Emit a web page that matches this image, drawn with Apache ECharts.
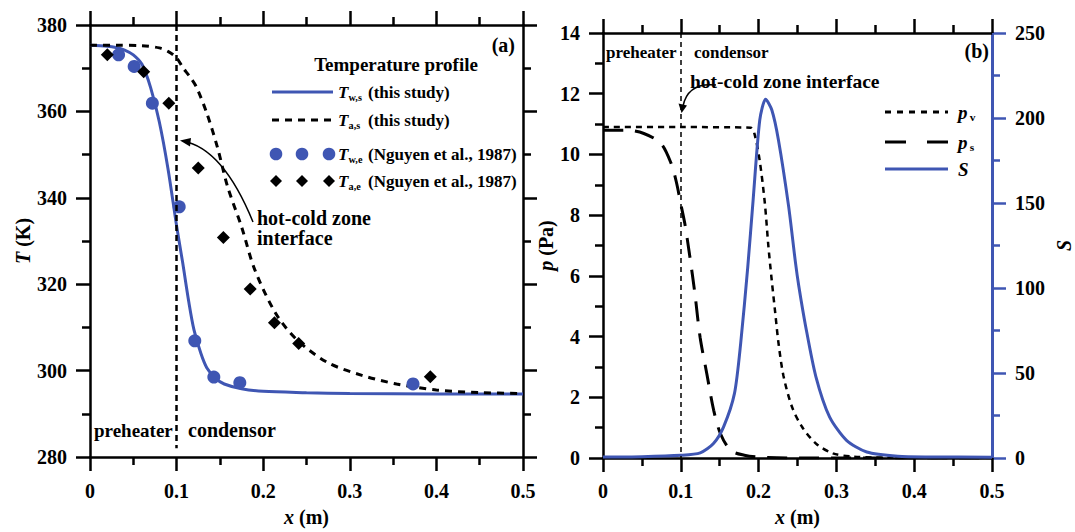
<!DOCTYPE html>
<html>
<head>
<meta charset="utf-8">
<script src="https://cdn.jsdelivr.net/npm/echarts@6/dist/echarts.min.js"></script>
<style>
  html, body { margin: 0; padding: 0; background: #fff; }
  #chart { width: 1075px; height: 532px; }
</style>
</head>
<body>
<div id="chart"></div>
<script>
// ---- panel (a): temperature profile ----
const xTws = [0, 0.02, 0.03, 0.04, 0.05, 0.06, 0.07, 0.08, 0.09, 0.1, 0.107, 0.114, 0.12, 0.128, 0.135, 0.145, 0.155, 0.175, 0.2, 0.25, 0.3, 0.4, 0.5];
const Tws = [375.3, 375.1, 374.8, 374.2, 373.1, 370.9, 365.5, 357.6, 346.8, 333.5, 325, 316, 309.5, 304, 300.6, 298.2, 296.9, 295.8, 295.2, 294.9, 294.7, 294.6, 294.6];

const xTas = [0, 0.03, 0.06, 0.08, 0.09, 0.1, 0.107, 0.115, 0.123, 0.135, 0.147, 0.159, 0.175, 0.19, 0.214, 0.238, 0.274, 0.314, 0.354, 0.4, 0.45, 0.5];
const Tas = [375.3, 375.3, 375.2, 374.7, 373.9, 372.4, 370.2, 368.1, 365.6, 359.5, 351.8, 342.5, 333.3, 323.5, 313.4, 307.3, 301.9, 298.9, 296.9, 295.5, 294.9, 294.7];

const xTwe = [0.033, 0.051, 0.072, 0.103, 0.121, 0.143, 0.173, 0.373];
const Twe = [373.1, 370.4, 361.9, 337.9, 306.9, 298.5, 297.2, 296.9];

const xTae = [0.02, 0.062, 0.091, 0.125, 0.154, 0.185, 0.213, 0.241, 0.393];
const Tae = [373.1, 369.2, 361.9, 346.9, 330.8, 318.9, 311.1, 306.3, 298.6];

// ---- panel (b): pressures and S ----
const xPv = [0, 0.1, 0.19, 0.195, 0.2014, 0.208, 0.2125, 0.2167, 0.2211, 0.2255, 0.232, 0.243, 0.256, 0.274, 0.2955, 0.32, 0.35, 0.4, 0.5];
const pv = [10.9, 10.9, 10.88, 10.65, 9.8, 8.4, 7.0, 5.9, 4.85, 3.8, 2.7, 1.68, 1.02, 0.47, 0.15, 0.05, 0.015, 0, 0];

const xPs = [0, 0.03, 0.0525, 0.0744, 0.0876, 0.0942, 0.1007, 0.1051, 0.1116, 0.1182, 0.1248, 0.1335, 0.1423, 0.151, 0.1642, 0.1817, 0.2, 0.25, 0.5];
const ps = [10.8, 10.8, 10.69, 10.36, 9.7, 9.1, 8.28, 7.73, 6.64, 5.4, 3.98, 2.77, 1.57, 0.8, 0.25, 0.09, 0.03, 0, 0];

const xS = [0, 0.05, 0.1, 0.125, 0.142, 0.155, 0.169, 0.177, 0.186, 0.193, 0.2015, 0.209, 0.217, 0.2255, 0.2386, 0.2474, 0.2517, 0.2605, 0.2736, 0.2912, 0.313, 0.339, 0.379, 0.42, 0.5];
const S = [0.6, 0.8, 1.6, 3, 8.5, 18.3, 38, 67.6, 112, 152, 198.8, 211.1, 204.7, 187.1, 148, 114.9, 101, 77.4, 47.9, 24.2, 10.4, 3.5, 1.0, 0.6, 0.5];

const interfaceX = 0.1;

const BLUE = '#3f56b3';
const FONT = 'Liberation Serif';

const zip = (xs, ys) => xs.map((x, i) => [x, ys[i]]);

const chart = echarts.init(document.getElementById('chart'), null, { renderer: 'svg' });

function xAxisCfg(gridIndex, position, showLabel) {
  return {
    type: 'value', gridIndex, position, min: 0, max: 0.5, interval: 0.1,
    name: showLabel ? '{i|x} (m)' : '', nameLocation: 'middle', nameGap: 50,
    nameTextStyle: { fontFamily: FONT, fontWeight: 'bold', fontSize: 20, color: '#000',
      rich: { i: { fontFamily: FONT, fontWeight: 'bold', fontStyle: 'italic', fontSize: 20, color: '#000' } } },
    axisLine: { show: true, onZero: false, lineStyle: { color: '#000', width: 2.5 } },
    axisTick: { show: true, inside: false, length: 14, lineStyle: { color: '#000', width: 2.5 } },
    minorTick: { show: true, splitNumber: 2, length: 8, lineStyle: { color: '#000', width: 2.5 } },
    splitLine: { show: false },
    axisLabel: { show: showLabel, margin: 24, fontFamily: FONT, fontWeight: 'bold', fontSize: 20, color: '#000' }
  };
}

function yAxisCfg(gridIndex, position, min, max, interval, name, nameGap, showLabel, color) {
  return {
    type: 'value', gridIndex, position, min, max, interval,
    name, nameLocation: 'middle', nameGap,
    nameTextStyle: { fontFamily: FONT, fontWeight: 'bold', fontSize: 20, color: '#000',
      rich: { i: { fontFamily: FONT, fontWeight: 'bold', fontStyle: 'italic', fontSize: 20, color: '#000' } } },
    axisLine: { show: true, onZero: false, lineStyle: { color, width: color !== '#000' ? 3 : 2.5 } },
    axisTick: { show: true, inside: false, length: 14, lineStyle: { color, width: 2.5 } },
    minorTick: { show: true, splitNumber: 2, length: 8, lineStyle: { color, width: 2.5 } },
    splitLine: { show: false },
    axisLabel: { show: showLabel, margin: 23, fontFamily: FONT, fontWeight: 'bold', fontSize: 20, color: '#000' }
  };
}

const interfaceLine = (top, bottom, width, dash) => ({
  silent: true, symbol: ['none', 'none'], label: { show: false },
  lineStyle: { color: '#000', width, type: dash },
  emphasis: { disabled: true },
  data: [[{ coord: [interfaceX, top] }, { coord: [interfaceX, bottom] }]]
});

const txt = (x, y, text, size, extra) => ({
  type: 'text', x, y, silent: true,
  style: Object.assign({ text, fontFamily: FONT, fontWeight: 'bold', fontSize: size, fill: '#000',
    textVerticalAlign: 'middle', textAlign: 'left' }, extra || {})
});

// legend label: italic symbol + subscript + plain text
function label(x, y, sym, sub, rest, size) {
  const items = [
    txt(x, y, sym, size, { fontStyle: 'italic' }),
    txt(x + size * 0.62, y + 5, sub, size * 0.6)
  ];
  if (rest) items.push(txt(x + 30, y, rest, size));
  return items;
}

const graphics = [
  // panel (a)
  txt(515, 45, '(a)', 20, { textAlign: 'right' }),
  txt(396, 64, 'Temperature profile', 19, { textAlign: 'center' }),
  { type: 'line', silent: true, shape: { x1: 272, y1: 92, x2: 333, y2: 92 }, style: { stroke: BLUE, lineWidth: 3 } },
  ...label(338, 92, 'T', 'w,s', '(this study)', 17),
  { type: 'line', silent: true, shape: { x1: 272, y1: 120, x2: 333, y2: 120 }, style: { stroke: '#000', lineWidth: 3, lineDash: [7, 6] } },
  ...label(338, 120, 'T', 'a,s', '(this study)', 17),
  ...[276, 302, 329].map(cx => ({ type: 'circle', silent: true, shape: { cx, cy: 154, r: 6.3 }, style: { fill: BLUE } })),
  ...label(338, 154, 'T', 'w,e', '(Nguyen et al., 1987)', 17),
  ...[276, 302, 329].map(cx => ({ type: 'polygon', silent: true, shape: { points: [[cx, 175], [cx + 6, 181], [cx, 187], [cx - 6, 181]] }, style: { fill: '#000' } })),
  ...label(338, 181, 'T', 'a,e', '(Nguyen et al., 1987)', 17),
  txt(257, 218, 'hot-cold zone', 20),
  txt(257, 238, 'interface', 20),
  { type: 'bezierCurve', silent: true, shape: { x1: 253, y1: 222, cpx1: 223, cpy1: 148.5, x2: 183, y2: 141 }, style: { stroke: '#000', lineWidth: 1.5, fill: null } },
  { type: 'polygon', silent: true, shape: { points: [[180, 140.5], [191, 138], [190, 146.5]] }, style: { fill: '#000' } },
  txt(94, 430, 'preheater', 19),
  txt(188, 430, 'condensor', 20),
  // panel (b)
  txt(989, 51, '(b)', 20, { textAlign: 'right' }),
  txt(606, 52, 'preheater', 17),
  txt(694, 52, 'condensor', 17),
  txt(690, 81, 'hot-cold zone interface', 19.5),
  { type: 'bezierCurve', silent: true, shape: { x1: 716, y1: 85, cpx1: 688, cpy1: 82, x2: 683, y2: 106 }, style: { stroke: '#000', lineWidth: 1.5, fill: null } },
  { type: 'polygon', silent: true, shape: { points: [[681.6, 113], [678.5, 103.5], [687, 105.5]] }, style: { fill: '#000' } },
  { type: 'line', silent: true, shape: { x1: 885, y1: 112, x2: 948, y2: 112 }, style: { stroke: '#000', lineWidth: 3, lineDash: [6, 6] } },
  ...label(958, 112, 'p', 'v', '', 19),
  { type: 'line', silent: true, shape: { x1: 885, y1: 142, x2: 948, y2: 142 }, style: { stroke: '#000', lineWidth: 3, lineDash: [21, 21] } },
  ...label(958, 142, 'p', 's', '', 19),
  { type: 'line', silent: true, shape: { x1: 885, y1: 169, x2: 948, y2: 169 }, style: { stroke: BLUE, lineWidth: 3 } },
  txt(958, 169, 'S', 19, { fontStyle: 'italic' })
];

chart.setOption({
  animation: false,
  backgroundColor: '#fff',
  grid: [
    { left: 90, top: 25, width: 433, height: 441 },
    { left: 603, top: 33, width: 390, height: 429 }
  ],
  xAxis: [
    xAxisCfg(0, 'bottom', true),
    xAxisCfg(0, 'top', false),
    Object.assign(xAxisCfg(1, 'bottom', true), { nameGap: 49, axisLabel: { show: true, margin: 23, fontFamily: FONT, fontWeight: 'bold', fontSize: 20, color: '#000' } }),
    xAxisCfg(1, 'top', false)
  ],
  yAxis: [
    Object.assign(yAxisCfg(0, 'left', 280, 380, 20, '{i|T} (K)', 56, true, '#000'), { nameRotate: 90 }),
    yAxisCfg(0, 'right', 280, 380, 20, '', 0, false, '#000'),
    Object.assign(yAxisCfg(1, 'left', 0, 14, 2, '{i|p} (Pa)', 40, true, '#000'), { nameRotate: 90 }),
    Object.assign(yAxisCfg(1, 'right', 0, 250, 50, '{i|S}', 62, true, BLUE), { nameRotate: 90 })
  ],
  series: [
    { name: 'Tws', type: 'line', xAxisIndex: 0, yAxisIndex: 0, data: zip(xTws, Tws), smooth: 0.3,
      showSymbol: false, lineStyle: { color: BLUE, width: 3 }, z: 3 },
    { name: 'Tas', type: 'line', xAxisIndex: 0, yAxisIndex: 0, data: zip(xTas, Tas), smooth: 0.3,
      showSymbol: false, lineStyle: { color: '#000', width: 3, type: [7, 6] }, markLine: interfaceLine(380, 282, 2.5, [6, 4]) },
    { name: 'Twe', type: 'scatter', xAxisIndex: 0, yAxisIndex: 0, data: zip(xTwe, Twe), symbol: 'circle',
      symbolSize: 13, itemStyle: { color: BLUE, opacity: 1 }, z: 4 },
    { name: 'Tae', type: 'scatter', xAxisIndex: 0, yAxisIndex: 0, data: zip(xTae, Tae), symbol: 'diamond',
      symbolSize: 13, itemStyle: { color: '#000', opacity: 1 }, z: 4 },
    { name: 'pv', type: 'line', xAxisIndex: 2, yAxisIndex: 2, data: zip(xPv, pv), smooth: 0.3,
      showSymbol: false, lineStyle: { color: '#000', width: 2.5, type: [6, 5] },
      markLine: interfaceLine(14, 0, 1.5, [5, 4]) },
    { name: 'ps', type: 'line', xAxisIndex: 2, yAxisIndex: 2, data: zip(xPs, ps), smooth: 0.3,
      showSymbol: false, lineStyle: { color: '#000', width: 3, type: [20, 12] } },
    { name: 'S', type: 'line', xAxisIndex: 2, yAxisIndex: 3, data: zip(xS, S), smooth: 0.25,
      showSymbol: false, lineStyle: { color: BLUE, width: 3 }, z: 3 }
  ],
  graphic: graphics
});
</script>
</body>
</html>
